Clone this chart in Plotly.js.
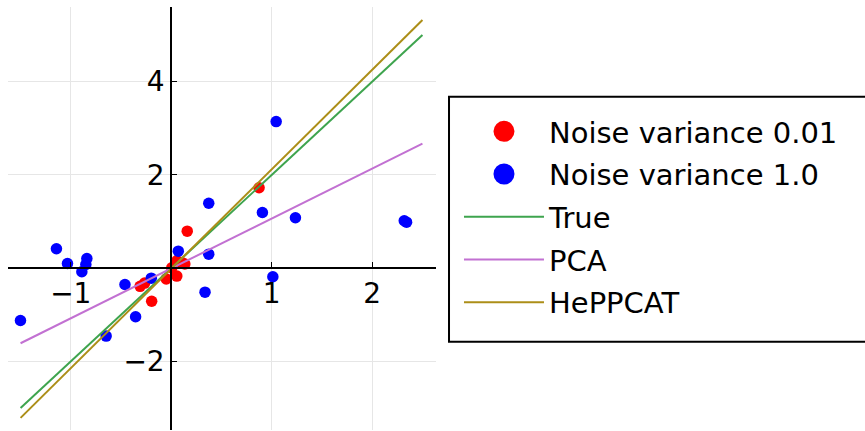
<!DOCTYPE html>
<html>
<head>
<meta charset="utf-8">
<script src="https://cdn.plot.ly/plotly-3.0.1.min.js"></script>
<style>html,body{margin:0;padding:0;background:#fff;}#chart{width:865px;height:431px;}</style>
</head>
<body>
<div id="chart"></div>
<script>
// Noise variance 0.01 samples
var redX = [0.874, 0.159, 0.135, 0.105, 0.055, 0.005, 0.055, -0.05, -0.31, -0.265, -0.195];
var redY = [1.725, 0.793, 0.09, 0.12, 0.16, 0.01, -0.17, -0.23, -0.39, -0.32, -0.71];
// Noise variance 1.0 samples
var blueX = [-1.501, -1.143, -1.033, -0.840, -0.850, -0.890, -0.461, -0.199, -0.355, -0.648,
             0.070, 0.373, 0.373, 0.336, 0.907, 1.044, 1.011, 1.236, 2.319, 2.342];
var blueY = [-1.121, 0.416, 0.100, 0.208, 0.079, -0.077, -0.349, -0.214, -1.041, -1.457,
             0.364, 1.393, 0.300, -0.514, 1.193, 3.143, -0.184, 1.080, 1.016, 0.986];
// Fitted / true subspace lines (endpoints)
var lineX = [-1.5, 2.5];
var trueY = [-3.0, 5.0];
var pcaY = [-1.61, 2.67];
var heppcatY = [-3.21, 5.32];

var seriesNames = ['Noise variance 0.01', 'Noise variance 1.0', 'True', 'PCA', 'HePPCAT'];
var xTicks = [-1, 1, 2];
var yTicks = [-2, 2, 4];

var xRange = [-1.625, 2.635];
var yRange = [-3.47, 5.60];

var FONT = 'DejaVu Sans, sans-serif';
var RED = '#ff0000', BLUE = '#0000ff';

var traces = [
  // scatter data (legend entries supplied by the key traces below)
  {x: redX, y: redY, mode: 'markers', type: 'scatter', name: seriesNames[0], showlegend: false,
   marker: {color: RED, size: 11.5}},
  {x: blueX, y: blueY, mode: 'markers', type: 'scatter', name: seriesNames[1], showlegend: false,
   marker: {color: BLUE, size: 11.5}},
  // legend keys with the larger symbol used in the reference (no plotted points)
  {x: [null], y: [null], mode: 'markers', type: 'scatter', name: seriesNames[0], legendgroup: 'g1',
   marker: {color: RED, size: 16, line: {color: RED, width: 5}}},
  {x: [null], y: [null], mode: 'markers', type: 'scatter', name: seriesNames[1], legendgroup: 'g2',
   marker: {color: BLUE, size: 16, line: {color: BLUE, width: 5}}},
  {x: lineX, y: trueY, mode: 'lines', type: 'scatter', name: seriesNames[2], legendgroup: 'g3',
   line: {color: '#3ea44e', width: 2}},
  {x: lineX, y: pcaY, mode: 'lines', type: 'scatter', name: seriesNames[3], legendgroup: 'g4',
   line: {color: '#c271d2', width: 2}},
  {x: lineX, y: heppcatY, mode: 'lines', type: 'scatter', name: seriesNames[4], legendgroup: 'g5',
   line: {color: '#ac8e18', width: 2}}
];

var xPos = (0 - yRange[0]) / (yRange[1] - yRange[0]);
var yPos = (0 - xRange[0]) / (xRange[1] - xRange[0]);

var layout = {
  width: 865, height: 431,
  margin: {l: 8, r: 429, t: 7, b: 1, pad: 0},
  paper_bgcolor: '#ffffff', plot_bgcolor: '#ffffff',
  font: {family: FONT, size: 28, color: '#000'},
  showlegend: true,
  xaxis: {
    range: xRange, anchor: 'free', position: xPos, side: 'bottom',
    tickvals: xTicks, showgrid: true, gridcolor: '#e6e6e6', gridwidth: 1,
    zeroline: false, showline: true, linecolor: '#000', linewidth: 2,
    ticks: 'inside', ticklen: 5, tickwidth: 1, tickcolor: '#000',
    tickfont: {family: FONT, size: 28, color: '#000'}
  },
  yaxis: {
    range: yRange, anchor: 'free', position: yPos, side: 'left',
    tickvals: yTicks, showgrid: true, gridcolor: '#e6e6e6', gridwidth: 1,
    zeroline: false, showline: true, linecolor: '#000', linewidth: 2,
    ticks: 'inside', ticklen: 5, tickwidth: 1, tickcolor: '#000',
    tickfont: {family: FONT, size: 28, color: '#000'}
  },
  legend: {
    x: 1.0537, y: 0.766, xanchor: 'left', yanchor: 'top',
    borderwidth: 0, bgcolor: 'rgba(0,0,0,0)',
    font: {family: FONT, size: 29, color: '#000'},
    tracegroupgap: 2, itemwidth: 80
  },
  shapes: [
    {type: 'rect', xref: 'paper', yref: 'paper', x0: 1.0304, x1: 2.02, y0: 0.2087, y1: 0.788,
     line: {color: '#000', width: 2}, fillcolor: 'rgba(0,0,0,0)'}
  ]
};

Plotly.newPlot('chart', traces, layout, {displayModeBar: false, staticPlot: true});
</script>
</body>
</html>
